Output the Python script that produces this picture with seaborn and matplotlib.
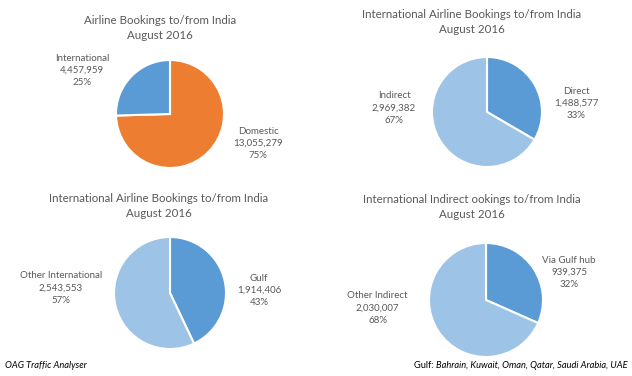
import matplotlib
matplotlib.use('Agg')
import matplotlib.pyplot as plt
import seaborn as sns

sns.set_theme(style='white')
plt.rcParams['font.family'] = ['Lato', 'DejaVu Sans']

# data
titles = ['Airline Bookings to/from India\nAugust 2016',
          'International Airline Bookings to/from India\nAugust 2016',
          'International Airline Bookings to/from India\nAugust 2016',
          'International Indirect ookings to/from India\nAugust 2016']
labels = [['Domestic', 'International'],
          ['Direct', 'Indirect'],
          ['Gulf', 'Other International'],
          ['Via Gulf hub', 'Other Indirect']]
values = [[13055279, 4457959],
          [1488577, 2969382],
          [1914406, 2543553],
          [939375, 2030007]]
colors = [['#ED7D31', '#5B9BD5'],
          ['#5B9BD5', '#9DC3E6'],
          ['#5B9BD5', '#9DC3E6'],
          ['#5B9BD5', '#9DC3E6']]

# layout (pixels): pie centres, radius, label offsets in radius units, title centres
W, H = 632, 376
centres = [(170, 114), (487, 112), (170, 293), (486, 300)]
radii = [54, 55, 56, 57]
label_pos = [[(1.63, -0.54), (-1.63, 0.81)],
             [(1.62, 0.16), (-1.69, 0.07)],
             [(1.59, 0.05), (-1.95, 0.09)],
             [(1.46, 0.48), (-1.9, -0.14)]]
title_pos = [(160, 28), (472, 22), (159, 206), (472, 207)]

fig = plt.figure(figsize=(W / 100, H / 100), dpi=100)
grey = '#595959'
lim = 2.3
for i in range(4):
    cx, cy = centres[i]
    r = radii[i]
    side = 2 * lim * r
    ax = fig.add_axes([(cx - side / 2) / W, (H - cy - side / 2) / H, side / W, side / H])
    ax.pie(values[i], colors=colors[i], startangle=90, counterclock=False,
           wedgeprops=dict(edgecolor='white', linewidth=1.5))
    ax.set_xlim(-lim, lim)
    ax.set_ylim(-lim, lim)
    ax.set_aspect('equal')
    ax.axis('off')
    total = sum(values[i])
    for lab, v, (lx, ly) in zip(labels[i], values[i], label_pos[i]):
        ax.text(lx, ly, f'{lab}\n{v:,}\n{round(100 * v / total)}%', ha='center', va='center',
                fontsize=7.0, color=grey, linespacing=1.45)
    tx, ty = title_pos[i]
    fig.text(tx / W, 1 - ty / H, titles[i], ha='center', va='center', fontsize=8.3,
             color=grey, linespacing=1.45)

fig.text(5 / W, 1 - 365 / H, 'OAG Traffic Analyser', ha='left', va='center',
         fontsize=6.7, style='italic', color='black')
t = fig.text(628 / W, 1 - 365 / H, 'Bahrain, Kuwait, Oman, Qatar, Saudi Arabia, UAE',
             ha='right', va='center', fontsize=6.7, style='italic', color='black')
fig.canvas.draw()
bb = t.get_window_extent()
fig.text(bb.x0 / W, 1 - 365 / H, 'Gulf: ', ha='right', va='center', fontsize=6.7, color='black')

fig.savefig('out.png', dpi=100)
